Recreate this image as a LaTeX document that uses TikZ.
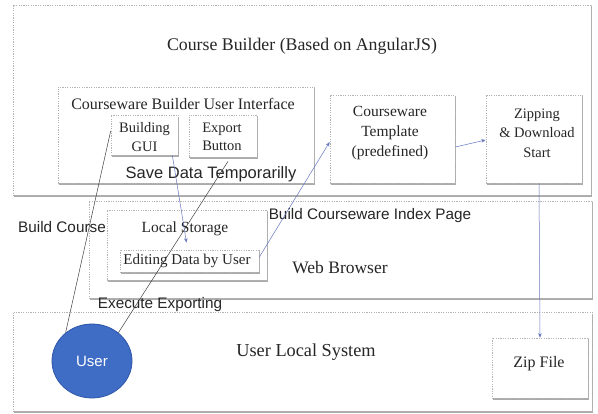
\documentclass[tikz,border=0pt]{standalone}
\usepackage{fontspec}
\setmainfont{Liberation Serif}
\setsansfont{Liberation Sans}
\usetikzlibrary{shadows,arrows.meta,shapes.geometric}
\definecolor{flowblue}{HTML}{6677BB}
\definecolor{userblue}{HTML}{3F6CC5}
\definecolor{userrim}{HTML}{2E56A6}
\definecolor{rimgray}{HTML}{B4B4B4}
\definecolor{shadegray}{HTML}{ABABAB}
\tikzset{
  panel/.style={draw=rimgray, line width=0.7pt, dash pattern=on 1.2pt off 1.2pt,
    fill=white, rectangle, inner sep=0pt,
    drop shadow={shadow xshift=1.1pt, shadow yshift=-1.6pt, fill=shadegray, opacity=1}},
  serlabel/.style={font=\fontsize{#1}{#1}\selectfont, text=black!85, inner sep=0pt, align=center},
  serlabel/.default=13,
  sanlabel/.style={font=\sffamily\fontsize{#1}{#1}\selectfont, text=black!85, inner sep=0pt},
  sanlabel/.default=14,
  flow/.style={draw=flowblue, line width=0.5pt, -{Stealth[length=4.5pt,width=3.5pt]}},
  tie/.style={draw=black!75, line width=0.5pt},
}
\begin{document}
\begin{tikzpicture}[x=1pt,y=-1pt]
\useasboundingbox (0,0) rectangle (598,414);
\fill[white] (0,0) rectangle (598,414);

% Course Builder panel
\node[panel, minimum width=578pt, minimum height=190pt] (cb) at (302,100) {};
\node[serlabel=17.8] (cbtitle) at (302,46) {Course Builder (Based on AngularJS)};

% builder user interface and its parts
\node[panel, minimum width=256pt, minimum height=96pt] (ui) at (186,135) {};
\node[serlabel=16] (uititle) at (183,104) {Courseware\ Builder\ User\ Interface};
\node[panel, minimum width=67pt, minimum height=40pt] (gui) at (144.5,135) {};
\node[serlabel=14.5] (guitext) at (144.5,137) {Building\\[4pt]GUI};
\node[panel, minimum width=68pt, minimum height=42pt] (export) at (223,136) {};
\node[serlabel=14.5] (exporttext) at (222,137) {Export\\[4pt]Button};
\node[sanlabel=16.5] (save) at (211,174) {Save Data Temporarilly};

\node[panel, minimum width=125pt, minimum height=88pt] (template) at (392.5,139) {};
\node[serlabel=15.5] (templatetext) at (390,133) {Courseware\\[4.5pt]Template\\[4.5pt](predefined)};
\node[panel, minimum width=96pt, minimum height=88pt] (zipping) at (534,139) {};
\node[serlabel=14.5] (zippingtext) at (537,133) {Zipping\\[5pt]\&\ Download\\[5pt]Start};

% Web Browser panel
\node[panel, minimum width=503pt, minimum height=97pt] (wb) at (340.5,249.5) {};
\node[serlabel=17.5] (wbtext) at (340,268) {Web Browser};
\node[panel, minimum width=160pt, minimum height=70pt] (ls) at (187,245) {};
\node[serlabel=15.5] (lstext) at (185,229) {Local\ Storage};
\node[panel, minimum width=139pt, minimum height=22pt] (edit) at (189.5,261) {};
\node[serlabel=15] (edittext) at (187,261) {Editing\ Data\ by\ User};

% free labels between panels
\node[sanlabel=15.3] (buildcourse) at (62,227) {Build Course};
\node[sanlabel=15.3] (buildindex) at (370,216) {Build Courseware Index Page};
\node[sanlabel=15.3] (execexport) at (160,305) {Execute Exporting};

% User Local System panel
\node[panel, minimum width=579pt, minimum height=99pt] (uls) at (302.5,361.5) {};
\node[serlabel=18.3] (ulstext) at (306,352) {User Local System};
\node[panel, minimum width=96pt, minimum height=60pt] (zip) at (540,368) {};
\node[serlabel=16] (ziptext) at (539,364) {Zip\ File};

% the user
\node[ellipse, fill=userblue, draw=userrim, line width=0.8pt,
      minimum width=80pt, minimum height=74pt, inner sep=0pt,
      font=\sffamily\fontsize{15}{15}\selectfont, text=white] (user) at (92,361) {User};

% connectors
\draw[tie] (user.133) -- ([yshift=4pt]gui.west);
\draw[tie] (user.47) -- ([xshift=5pt,yshift=-4pt]export.south);
\draw[flow] ([xshift=-6pt]gui.south east) -- ([xshift=-3pt,yshift=7pt]edit.north);
\draw[flow] ([yshift=4pt]edit.east) -- ([yshift=-3pt]template.west);
\draw[flow] ([yshift=-8pt]template.east) -- ([yshift=-1pt]zipping.west);
\draw[flow] (zipping.south -| ziptext) -- (zip.north);
\end{tikzpicture}
\end{document}
